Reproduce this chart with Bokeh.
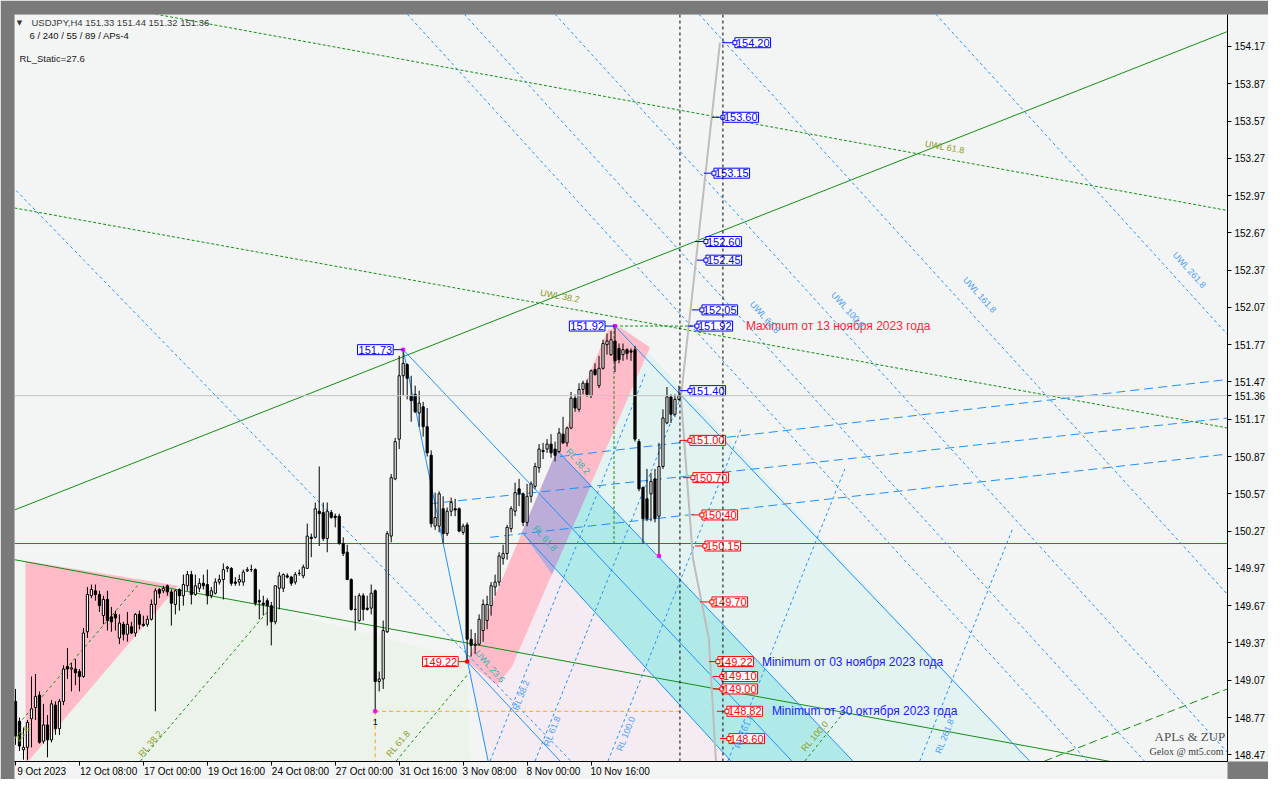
from bokeh.plotting import figure
from bokeh.models import Range1d, FixedTicker, NumeralTickFormatter, Span
from bokeh.embed import file_html
from bokeh.resources import INLINE
from bokeh.core.properties import value

# H4 candles, bar 0 = 9 Oct 2023 16:00, last bar = 16 Nov 08:00
opens = [148.90, 148.74, 148.51, 148.53, 148.76, 148.85, 148.95, 148.58, 148.71, 148.59,
         148.87, 148.68, 148.90, 149.18, 149.16, 149.16, 149.14, 149.10, 149.46, 149.75,
         149.79, 149.76, 149.59, 149.72, 149.58, 149.60, 149.41, 149.52, 149.44, 149.50,
         149.45, 149.60, 149.52, 149.52, 149.56, 149.68, 149.80, 149.79, 149.83, 149.78,
         149.68, 149.80, 149.75, 149.83, 149.92, 149.76, 149.81, 149.85, 149.84, 149.75,
         149.77, 149.86, 149.88, 149.97, 149.97, 149.86, 149.86, 149.86, 149.95, 149.96,
         149.96, 149.71, 149.69, 149.71, 149.67, 149.54, 149.81, 149.81, 149.91, 149.90,
         149.86, 149.93, 149.91, 149.97, 150.22, 150.22, 150.43, 150.42, 150.21, 150.42,
         150.39, 150.39, 150.17, 150.10, 149.88, 149.64, 149.55, 149.75, 149.65, 149.65,
         149.79, 149.06, 149.08, 149.46, 150.23, 150.69, 151.01, 151.52, 151.61, 151.36,
         151.37, 151.22, 151.27, 151.11, 150.88, 150.31, 150.31, 150.45, 150.25, 150.43,
         150.45, 150.45, 150.26, 150.32, 149.40, 149.35, 149.36, 149.47, 149.55, 149.67,
         149.82, 149.86, 150.05, 150.09, 150.29, 150.43, 150.61, 150.57, 150.34, 150.55,
         150.63, 150.78, 150.92, 150.93, 150.97, 150.93, 150.91, 151.05, 150.98, 151.10,
         151.34, 151.25, 151.41, 151.46, 151.36, 151.57, 151.44, 151.58, 151.77, 151.69,
         151.80, 151.74, 151.69, 151.73, 151.72, 151.73, 150.99, 150.62, 150.53, 150.57,
         150.69, 150.39, 150.79, 151.14, 151.35, 151.21, 151.33]
highs = [149.00, 148.77, 148.69, 148.75, 149.10, 149.12, 148.98, 148.88, 148.79, 148.91,
         148.90, 148.92, 149.19, 149.33, 149.21, 149.24, 149.16, 149.49, 149.82, 149.84,
         149.84, 149.79, 149.75, 149.79, 149.66, 149.63, 149.60, 149.54, 149.62, 149.54,
         149.61, 149.63, 149.59, 149.59, 149.72, 149.81, 149.81, 149.83, 149.84, 149.80,
         149.80, 149.81, 149.92, 149.95, 149.95, 149.92, 149.89, 149.92, 149.96, 149.82,
         149.89, 149.92, 150.01, 149.99, 149.98, 149.90, 149.92, 149.96, 149.98, 150.00,
         149.97, 149.80, 149.75, 149.73, 149.70, 149.83, 149.94, 149.93, 149.93, 149.91,
         149.94, 149.96, 150.00, 150.33, 150.25, 150.50, 150.79, 150.50, 150.50, 150.44,
         150.41, 150.41, 150.22, 150.16, 149.89, 149.75, 149.77, 149.77, 149.75, 149.84,
         149.80, 149.14, 149.55, 150.27, 150.73, 151.02, 151.68, 151.73, 151.62, 151.52,
         151.44, 151.40, 151.31, 151.26, 150.92, 150.58, 150.59, 150.55, 150.46, 150.54,
         150.53, 150.46, 150.33, 150.34, 149.48, 149.45, 149.60, 149.72, 149.75, 149.86,
         149.92, 150.10, 150.16, 150.32, 150.47, 150.66, 150.69, 150.58, 150.65, 150.67,
         150.82, 150.97, 150.98, 151.01, 151.05, 150.99, 151.10, 151.19, 151.11, 151.39,
         151.37, 151.46, 151.48, 151.49, 151.57, 151.62, 151.68, 151.81, 151.86, 151.88,
         151.92, 151.78, 151.78, 151.74, 151.74, 151.76, 151.01, 150.63, 150.77, 150.74,
         150.77, 150.98, 151.25, 151.43, 151.37, 151.37, 151.44]
lows = [148.55, 148.50, 148.43, 148.43, 148.53, 148.75, 148.56, 148.56, 148.45, 148.57,
        148.63, 148.63, 148.87, 149.08, 148.98, 149.03, 148.98, 149.09, 149.41, 149.73,
        149.71, 149.62, 149.52, 149.47, 149.46, 149.47, 149.36, 149.39, 149.38, 149.44,
        149.42, 149.48, 149.50, 149.50, 149.55, 148.82, 149.73, 149.77, 149.75, 149.51,
        149.60, 149.63, 149.67, 149.79, 149.68, 149.75, 149.78, 149.80, 149.68, 149.73,
        149.76, 149.84, 149.72, 149.94, 149.83, 149.83, 149.83, 149.83, 149.94, 149.94,
        149.67, 149.56, 149.59, 149.51, 149.35, 149.52, 149.64, 149.78, 149.89, 149.83,
        149.84, 149.91, 149.89, 149.97, 150.06, 150.21, 150.15, 150.19, 150.10, 150.37,
        150.30, 150.16, 150.07, 149.88, 149.63, 149.47, 149.54, 149.55, 149.63, 149.60,
        148.82, 148.98, 149.00, 149.45, 150.18, 150.68, 150.93, 151.36, 151.33, 151.15,
        151.22, 151.11, 151.03, 150.87, 150.30, 150.28, 150.26, 150.17, 150.23, 150.39,
        150.39, 150.26, 150.24, 149.22, 149.26, 149.28, 149.35, 149.38, 149.48, 149.59,
        149.75, 149.83, 150.00, 150.04, 150.26, 150.39, 150.47, 150.31, 150.31, 150.50,
        150.61, 150.74, 150.85, 150.90, 150.86, 150.83, 150.90, 150.97, 150.95, 151.09,
        151.23, 151.23, 151.37, 151.35, 151.34, 151.52, 151.42, 151.57, 151.69, 151.68,
        151.55, 151.62, 151.64, 151.65, 151.64, 150.99, 150.59, 150.17, 150.35, 150.35,
        150.34, 150.07, 150.77, 151.13, 151.14, 151.19, 151.32]
closes = [148.62, 148.54, 148.53, 148.73, 148.84, 148.94, 148.57, 148.71, 148.59, 148.88,
          148.68, 148.90, 149.16, 149.16, 149.17, 149.13, 149.10, 149.45, 149.76, 149.80,
          149.76, 149.67, 149.72, 149.55, 149.54, 149.57, 149.53, 149.44, 149.52, 149.45,
          149.60, 149.52, 149.51, 149.56, 149.68, 149.79, 149.77, 149.81, 149.78, 149.69,
          149.79, 149.75, 149.84, 149.92, 149.76, 149.83, 149.85, 149.83, 149.75, 149.79,
          149.86, 149.88, 149.96, 149.98, 149.85, 149.85, 149.88, 149.94, 149.96, 149.96,
          149.69, 149.70, 149.68, 149.67, 149.54, 149.83, 149.91, 149.92, 149.90, 149.85,
          149.92, 149.93, 149.98, 150.23, 150.21, 150.45, 150.41, 150.21, 150.43, 150.38,
          150.38, 150.17, 150.09, 149.88, 149.64, 149.64, 149.75, 149.64, 149.64, 149.77,
          149.06, 149.08, 149.47, 150.25, 150.70, 150.99, 151.52, 151.62, 151.50, 151.32,
          151.23, 151.30, 151.11, 150.90, 150.33, 150.38, 150.57, 150.25, 150.43, 150.50,
          150.44, 150.27, 150.31, 149.40, 149.35, 149.36, 149.56, 149.68, 149.68, 149.83,
          149.86, 150.07, 150.09, 150.30, 150.45, 150.58, 150.57, 150.34, 150.55, 150.65,
          150.79, 150.93, 150.91, 150.97, 150.90, 150.88, 151.06, 150.98, 151.10, 151.34,
          151.26, 151.41, 151.46, 151.37, 151.56, 151.53, 151.58, 151.78, 151.80, 151.81,
          151.64, 151.65, 151.73, 151.70, 151.71, 151.01, 150.61, 150.37, 150.37, 150.67,
          150.37, 150.79, 151.18, 151.35, 151.21, 151.33, 151.36]

date_ticks = [0, 16, 32, 48, 64, 80, 96, 112, 128, 144]
date_labels = ["9 Oct 2023", "12 Oct 08:00", "17 Oct 00:00", "19 Oct 16:00", "24 Oct 08:00",
               "27 Oct 00:00", "31 Oct 16:00", "3 Nov 08:00", "8 Nov 00:00", "10 Nov 16:00"]
price_ticks = [148.47, 148.77, 149.07, 149.37, 149.67, 149.97, 150.27, 150.57, 150.87, 151.17,
               151.47, 151.77, 152.07, 152.37, 152.67, 152.97, 153.27, 153.57, 153.87, 154.17]
last_price = 151.36

# projected price levels (blue above, red below) and where their tags sit
blue_levels = [154.20, 153.60, 153.15, 152.60, 152.45, 152.05, 151.92, 151.40]
blue_from = [176.75, 174.25, 172.25, 170.0, 170.5, 169.25, 168.25, 166.25]
blue_at = [180.0, 177.0, 174.75, 172.75, 172.75, 171.75, 170.5, 168.75]
red_levels = [151.00, 150.70, 150.40, 150.15, 149.70, 149.22, 149.10, 149.00, 148.82, 148.60]
red_from = [166.25, 167.0, 169.25, 170.0, 171.25, 173.5, 174.5, 174.5, 175.5, 176.25]
red_at = [168.75, 169.5, 171.75, 172.5, 174.25, 175.75, 176.75, 176.75, 178.0, 178.5]
# zigzag extremes
pivot_bar = [97, 150, 113]
pivot_price = [151.73, 151.92, 149.22]
pivot_tag_at = [94.5, 147.5, 110.75]

# ---- drawing objects of the template (bar index, price) ----
up_trend = ([-0.25, 303.25], [150.44, 154.29])
down_trend = ([-0.25, 280.0], [150.04, 148.38])
support = ([-0.25, 303.25], [150.17, 150.17])
uwl_green = [([-0.25, 303.25], [152.87, 151.10]), ([35.0, 303.25], [154.43, 152.85]),
             ([150.0, 169.5], [151.92, 151.92]), ([149.75, 149.75], [151.92, 150.17])]
rl_green = [([-0.25, 30.5], [148.68, 149.83]), ([31.25, 63.0], [148.42, 149.62]),
            ([95.25, 113.75], [148.42, 149.14]), ([197.5, 207.5], [148.42, 148.82])]
rl_green_long = ([257.5, 303.25], [148.42, 149.00])
uwl_blue_x = [[-42.75, 138.95], [98.0, 268.2], [112.25, 282.45], [135.0, 305.2],
              [171.0, 341.2], [230.25, 400.45]]
uwl_blue_y = [[154.43, 148.42]] * 6
rl_blue_x = [[118.75, 157.75], [130.0, 166.25], [148.25, 181.5], [178.25, 207.5], [226.25, 249.5]]
rl_blue_y = [[148.42, 151.55], [148.42, 151.33], [148.42, 151.09], [148.42, 150.77], [148.42, 150.29]]
fan_x = [[136.25, 303.25], [103.75, 303.25], [118.75, 303.25]]
fan_y = [[150.87, 151.49], [150.49, 151.18], [150.22, 150.89]]
fork_x = [[113.0, 136.25], [97.0, 194.25], [150.0, 253.75], [97.0, 118.25],
          [126.75, 179.0], [135.5, 209.5]]
fork_y = [[149.22, 148.42], [151.73, 148.42], [151.92, 148.42], [151.73, 148.42],
          [150.26, 148.42], [150.92, 148.42]]
path_x = [176.25, 166.5, 169.5, 173.5, 175.25]
path_y = [154.20, 151.35, 150.05, 149.40, 148.42]
low_bar, low_price = 90, 148.82
now_bar, target_bar = 166.25, 177.0

tri_x, tri_y = [2.5, 40.75, 3.25, 2.5], [150.03, 149.83, 148.42, 148.42]
zone_green_x, zone_green_y = [3.25, 40.75, 113.0, 113.75], [148.42, 149.83, 149.24, 148.42]
zone_cyan_x, zone_cyan_y = [152.5, 253.75, 209.5, 144.0], [151.91, 148.42, 148.42, 150.64]
zone_pink_x, zone_pink_y = [126.75, 179.0, 118.25, 113.0], [150.26, 148.42, 148.42, 149.22]
band_cyan_x, band_cyan_y = [135.5, 209.5, 179.0, 126.75], [150.92, 148.42, 148.42, 150.26]
band_pink_x = [113.0, 148.25, 151.25, 158.75, 124.25, 120.5]
band_pink_y = [149.22, 151.89, 151.91, 151.75, 149.18, 149.03]
overlap_x, overlap_y = [135.5, 144.0, 134.25, 126.75], [150.92, 150.64, 149.92, 150.26]

BG = "#F3F5F4"
FONT = "Liberation Sans"

# axis labels sit to the right of their tick, as in the terminal: pad with no-break spaces
GLYPH_W = {" ": 2.78, ":": 2.78, "O": 7.78, "c": 5.0, "t": 2.78, "N": 7.22, "o": 5.56, "v": 5.0}


def left_of_tick(label, first=False):
    if first:  # the first label is pushed against the left edge anyway
        return "\u00a0" * 6 + label
    w = sum(GLYPH_W.get(ch, 5.56) for ch in label)
    return "\u00a0" * round(w / 2.78) + label


p = figure(width=1268, height=779, x_range=Range1d(-0.25, 303.25), y_range=Range1d(148.416, 154.427),
           y_axis_location="right", output_backend="svg", toolbar_location=None,
           min_border_left=14, min_border_top=14, min_border_right=40, min_border_bottom=16,
           background_fill_color=BG, border_fill_color="#7a7a7a", outline_line_color="#8a8a8a",
           outline_line_dash="1 1")
p.grid.visible = False

p.xaxis.ticker = FixedTicker(ticks=date_ticks)
p.xaxis.major_label_overrides = {t: left_of_tick(s, t == date_ticks[0]) for t, s in zip(date_ticks, date_labels)}
p.xaxis.major_label_standoff = 0
p.xaxis.major_tick_out = 4
p.xaxis.major_tick_in = 0
p.xaxis.minor_tick_line_color = None
p.yaxis.ticker = FixedTicker(ticks=price_ticks + [last_price])
p.yaxis.formatter = NumeralTickFormatter(format="0.00")
p.yaxis.major_tick_out = 4
p.yaxis.major_tick_in = 0
p.yaxis.major_label_standoff = 3
p.yaxis.minor_tick_line_color = None
for ax in (p.xaxis, p.yaxis):
    ax.axis_line_color = "black"
    ax.major_tick_line_color = "black"
    ax.major_label_text_font = FONT
    ax.major_label_text_font_size = "10px"
    ax.major_label_text_color = "black"
    ax.background_fill_color = BG

# faint zones and bands
p.patch(zone_green_x, zone_green_y, fill_color="#ECF3EA", line_color=None)
p.patch(zone_cyan_x, zone_cyan_y, fill_color="#E3F3F2", line_color=None)
p.patch(zone_pink_x, zone_pink_y, fill_color="#F4ECF2", line_color=None)
p.patch(tri_x, tri_y, fill_color="#FFBCC8", line_color=None)
p.patch(band_cyan_x, band_cyan_y, fill_color="#B0EAE8", line_color=None)
p.patch(band_pink_x, band_pink_y, fill_color="#FFBCC8", line_color=None)
p.patch(overlap_x, overlap_y, fill_color="#BCACD8", line_color=None)

# lines
GREEN = "#138F13"
p.add_layout(Span(location=last_price, dimension="width", line_color="#C4C4C4", line_width=1))
p.line(*support, line_color=GREEN, line_width=1)
p.line(*up_trend, line_color=GREEN, line_width=1)
p.line(*down_trend, line_color=GREEN, line_width=1)
for xs, ys in uwl_green:
    p.line(xs, ys, line_color=GREEN, line_dash="3 2", line_width=1)
for xs, ys in rl_green:
    p.line(xs, ys, line_color=GREEN, line_dash="3 3", line_width=1)
p.line(*rl_green_long, line_color=GREEN, line_dash="8 4", line_width=1)
p.multi_line(uwl_blue_x, uwl_blue_y, line_color="#1E90FF", line_dash="3 3", line_width=1)
p.multi_line(rl_blue_x, rl_blue_y, line_color="#1E90FF", line_dash="3 3", line_width=1)
p.multi_line(fan_x, fan_y, line_color="#1E90FF", line_dash="9 5", line_width=1)
p.multi_line(fork_x, fork_y, line_color="#1E90FF", line_width=1)
p.line(path_x, path_y, line_color="#BDBDBD", line_width=2)
p.line([low_bar, now_bar], [low_price, low_price], line_color="#FFA500", line_dash="4 3", line_width=1)
p.line([low_bar, low_bar], [low_price, 148.416], line_color="#FFA500", line_dash="4 3", line_width=1)
for loc in (now_bar, target_bar):
    p.add_layout(Span(location=loc, dimension="height", line_color="black", line_dash="3 3", line_width=1))

# candles
bars = list(range(len(opens)))
up = [i for i in bars if closes[i] >= opens[i]]
dn = [i for i in bars if closes[i] < opens[i]]
p.segment(bars, highs, bars, lows, line_color="black", line_width=1)
p.vbar(x=up, bottom=[opens[i] for i in up], top=[closes[i] for i in up], width=0.55,
       fill_color="white", line_color="black", line_width=1)
p.vbar(x=dn, bottom=[closes[i] for i in dn], top=[opens[i] for i in dn], width=0.55,
       fill_color="black", line_color="black", line_width=1)

# pivots
p.scatter(pivot_bar[:2] + [low_bar, 161], pivot_price[:2] + [low_price, 150.07], marker="square",
          size=3, fill_color="#FF00FF", line_color="#FF00FF")
p.text([low_bar], [148.73], text=["1"], text_font=value(FONT), text_font_size="9px",
       text_align="center", text_baseline="middle", text_color="black")

# price tags
tag_style = dict(text_font=value(FONT), text_font_size="11px", text_baseline="middle",
                 background_fill_color="white", border_line_width=1, padding=1)
p.segment(blue_from, blue_levels, blue_at, blue_levels, line_color="#0000FF", line_width=1)
p.segment(red_from, red_levels, red_at, red_levels, line_color="#FF0000", line_width=1)
p.segment(pivot_tag_at, pivot_price, pivot_bar, pivot_price,
          line_color=["#0000FF", "#0000FF", "#FF0000"], line_width=1)
p.text(blue_at, blue_levels, text=[f"{v:.2f}" for v in blue_levels], text_align="left",
       text_color="#0000FF", border_line_color="#0000FF", **tag_style)
p.text(red_at, red_levels, text=[f"{v:.2f}" for v in red_levels], text_align="left",
       text_color="#FF0000", border_line_color="#FF0000", **tag_style)
p.text(pivot_tag_at[:2], pivot_price[:2], text=[f"{v:.2f}" for v in pivot_price[:2]], text_align="right",
       text_color="#0000FF", border_line_color="#0000FF", **tag_style)
p.text(pivot_tag_at[2:], pivot_price[2:], text=[f"{pivot_price[2]:.2f}"], text_align="right",
       text_color="#FF0000", border_line_color="#FF0000", **tag_style)
p.scatter(blue_at, blue_levels, marker="square", size=4, fill_color="white", line_color="#0000FF")
p.scatter(red_at, red_levels, marker="square", size=4, fill_color="white", line_color="#FF0000")
p.scatter(pivot_bar[2:], pivot_price[2:], marker="square", size=3, fill_color="#FF0000", line_color="#FF0000")

# comments
note_style = dict(text_font=value(FONT), text_font_size="12px", text_baseline="middle", text_align="left")
p.text([182.75], [151.92], text=["Maximum от 13 ноября 2023 года"], text_color="#FF1E3C", **note_style)
p.text([186.75], [149.22], text=["Minimum от 03 ноября 2023 года"], text_color="#1A1AFF", **note_style)
p.text([189.25], [148.82], text=["Minimum от 30 октября 2023 года"], text_color="#1A1AFF", **note_style)

# level names along the lines
small = dict(text_font=value(FONT), text_font_size="9px", text_align="center", text_baseline="middle")
p.text([136.25, 232.5], [152.16, 153.36], text=["UWL 38.2", "UWL 61.8"], angle=-0.18,
       text_color="#8C9A1E", **small)
p.text([187.5, 208.25, 241.25, 293.75], [151.99, 152.05, 152.17, 152.37],
       text=["UWL 61.8", "UWL 100.0", "UWL 161.8", "UWL 261.8"], angle=-0.84, text_color="#4A9BFF", **small)
p.text([126.5, 134.25, 152.75, 182.25, 232.5], [148.95, 148.66, 148.64, 148.66, 148.62],
       text=["RL 38.2", "RL 61.8", "RL 100.0", "RL 161.8", "RL 261.8"], angle=1.19,
       text_color="#4A9BFF", **small)
p.text([33.75, 95.75, 200.0, 1.75], [148.56, 148.56, 148.62, 148.64],
       text=["RL 38.2", "RL 61.8", "RL 100.0", "23.6"], angle=0.86, text_color="#8CA01E", **small)
p.text([140.75, 132.5, 118.75], [150.83, 150.21, 149.18], text=["RL 38.2", "RL 61.8", "UWL 23.6"],
       angle=-0.85, text_color="#2FB3B0", **small)

# header and signature
p.text([1.0], [154.36], text=["▼"], text_font=value("DejaVu Sans"), text_font_size="7px",
       text_align="center", text_baseline="middle", text_color="#333333")
p.text([4.0, 3.5, 1.0], [154.36, 154.26, 154.07],
       text=["USDJPY,H4  151.33 151.44 151.32 151.36", "6 / 240 / 55 / 89 / APs-4", "RL_Static=27.6"],
       text_font=value(FONT), text_font_size="9.5px", text_align="left", text_baseline="middle",
       text_color=["#3a3a3a", "#111111", "#222222"])
p.text([285.0], [148.62], text=["APLs & ZUP"], text_font=value("Liberation Serif"), text_font_size="13px",
       text_align="left", text_baseline="middle", text_color="#505050")
p.text([283.75], [148.50], text=["Gelox @ mt5.com"], text_font=value("Liberation Serif"), text_font_size="10px",
       text_align="left", text_baseline="middle", text_color="#404040")

open("out.html", "w").write(file_html(p, INLINE))
